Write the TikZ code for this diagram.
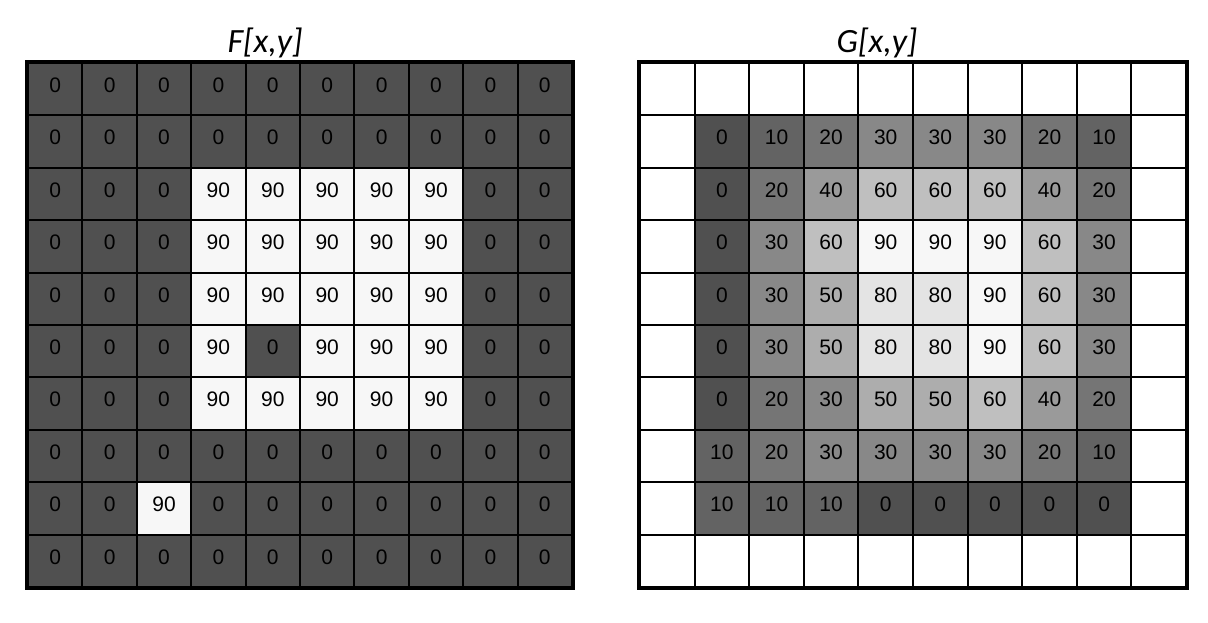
\documentclass[tikz,border=0pt]{standalone}
\usepackage{fontspec}
\setmainfont{Liberation Sans}
\newfontfamily\titlefont{Carlito}
\usetikzlibrary{positioning}
\tikzset{cell/.style = {draw, line width=1pt, inner sep=0, minimum height=26.2pt,
                        text depth=4pt, font=\fontsize{10.5}{12}\selectfont}}
\tikzset{frame/.style = {line width=2pt}}
\tikzset{title/.style = {anchor=base, font=\titlefont\itshape\fontsize{17}{20}\selectfont}}
% cell shade from value (0 -> dark, 90 -> near white), -1 means empty
\newcommand{\shadeof}[1]{%
  \ifnum#1<0 \definecolor{cellfill}{gray}{1}%
  \else\pgfmathsetmacro\grayval{(80+#1*167/90)/255}\definecolor{cellfill}{gray}{\grayval}\fi}
\newcommand{\cellval}[1]{\ifnum#1<0 \else#1\fi}

\begin{document}
\begin{tikzpicture}[x=0.5pt, y=-0.5pt]
    \useasboundingbox (0, 0) rectangle (1208, 622);

    % input image
    \node [title] (Ftitle) at (265, 52) {F[x,y]};
    \foreach \row [count=\j from 0] in {
        {0,0,0,0,0,0,0,0,0,0},
        {0,0,0,0,0,0,0,0,0,0},
        {0,0,0,90,90,90,90,90,0,0},
        {0,0,0,90,90,90,90,90,0,0},
        {0,0,0,90,90,90,90,90,0,0},
        {0,0,0,90,0,90,90,90,0,0},
        {0,0,0,90,90,90,90,90,0,0},
        {0,0,0,0,0,0,0,0,0,0},
        {0,0,90,0,0,0,0,0,0,0},
        {0,0,0,0,0,0,0,0,0,0}} {
      \foreach \v [count=\i from 0] in \row {
        \shadeof{\v}
        \node [cell, fill=cellfill, minimum width=27.2pt] (F-\j-\i)
          at ({28+54.4*(\i+0.5)}, {63+52.4*(\j+0.5)}) {\cellval{\v}};
      }
    }
    \draw [frame] (F-0-0.north west) rectangle (F-9-9.south east);

    % filtered image
    \node [title] (Gtitle) at (877, 52) {G[x,y]};
    \foreach \row [count=\j from 0] in {
        {-1,-1,-1,-1,-1,-1,-1,-1,-1,-1},
        {-1,0,10,20,30,30,30,20,10,-1},
        {-1,0,20,40,60,60,60,40,20,-1},
        {-1,0,30,60,90,90,90,60,30,-1},
        {-1,0,30,50,80,80,90,60,30,-1},
        {-1,0,30,50,80,80,90,60,30,-1},
        {-1,0,20,30,50,50,60,40,20,-1},
        {-1,10,20,30,30,30,30,20,10,-1},
        {-1,10,10,10,0,0,0,0,0,-1},
        {-1,-1,-1,-1,-1,-1,-1,-1,-1,-1}} {
      \foreach \v [count=\i from 0] in \row {
        \shadeof{\v}
        \node [cell, fill=cellfill, minimum width=27.3pt] (G-\j-\i)
          at ({640+54.6*(\i+0.5)}, {63+52.4*(\j+0.5)}) {\cellval{\v}};
      }
    }
    \draw [frame] (G-0-0.north west) rectangle (G-9-9.south east);
\end{tikzpicture}
\end{document}
